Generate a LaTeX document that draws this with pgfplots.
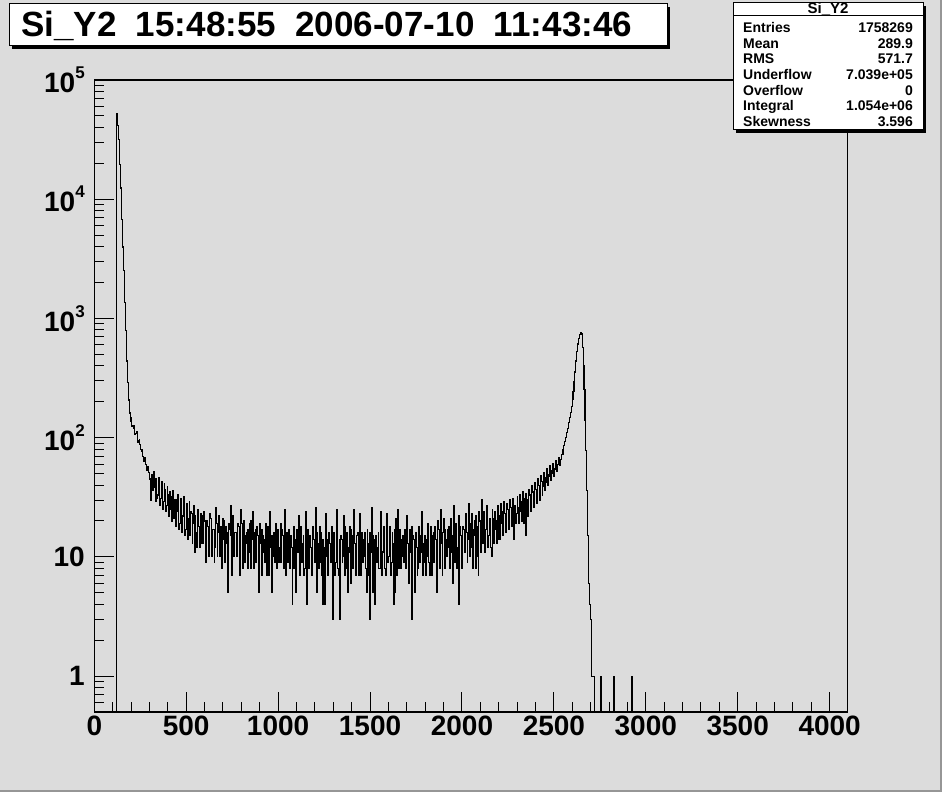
\documentclass[border=0pt]{standalone}
\usepackage{pgfplots}
\pgfplotsset{compat=1.18}
\usepackage{fontspec}
\setmainfont{Liberation Sans}
\definecolor{canvas}{RGB}{220,220,220}
\definecolor{edge}{RGB}{150,150,150}
\newcommand{\ex}[1]{\raisebox{0.5em}{\fontsize{17}{17}\selectfont #1}}
\begin{document}
\begin{tikzpicture}[x=1pt,y=1pt]
\fill[canvas] (0,0) rectangle (942,792);
\fill[edge] (940,0) rectangle (942,792);
\fill[edge] (0,0) rectangle (942,2);

\begin{axis}[
  at={(94.3pt,80pt)}, anchor=south west,
  width=753pt, height=632pt, scale only axis,
  ymode=log,
  xmin=0, xmax=4096, ymin=0.5, ymax=1e5,
  axis line style={line width=1.4pt},
  tick style={black, line width=1pt},
  tick align=inside, tick pos=left,
  major tick length=20pt, minor tick length=10pt,
  xtick={0,500,1000,1500,2000,2500,3000,3500,4000},
  xticklabels={0,500,1000,1500,2000,2500,3000,3500,4000},
  minor x tick num=4,
  ytick={1,10,100,1000,10000,100000},
  yticklabels={1,10,10\ex{2},10\ex{3},10\ex{4},10\ex{5}},
  minor ytick={0.5,0.6,0.7,0.8,0.9,2,3,4,5,6,7,8,9,20,30,40,50,60,70,80,90,
    200,300,400,500,600,700,800,900,2000,3000,4000,5000,6000,7000,8000,9000,
    20000,30000,40000,50000,60000,70000,80000,90000},
  ticklabel style={font=\fontsize{28}{28}\selectfont\bfseries},
  yticklabel style={anchor=east, xshift=-6pt},
]
\addplot[const plot, black, line width=1.2pt] table[row sep=\\] {
x y\\
0 0.01\\
119.7 52700\\ 125.2 41800\\ 130.6 31900\\ 136.0 19700\\ 141.5 12400\\
146.9 6810\\ 152.3 3970\\ 157.8 2540\\ 163.2 1370\\ 168.6 798\\
174.1 439\\ 179.5 292\\ 184.9 207\\ 190.4 161\\ 195.8 148\\
200 138\\ 204 124\\ 208 126\\ 212 127\\ 216 119\\ 220 106\\ 224 108\\ 228 110\\
232 112\\ 236 92\\ 240 95\\ 244 96\\ 248 88\\ 252 80\\ 256 79\\ 260 77\\
264 70\\ 268 63\\ 272 64\\ 276 68\\ 280 60\\ 284 53\\ 288 55\\ 292 57\\
296 51\\ 300 45\\
304 44\\ 308 30\\ 312 49\\ 316 36\\ 320 41\\ 324 52\\ 328 38\\ 332 29\\
336 45\\ 340 31\\ 344 33\\ 348 46\\ 352 40\\ 356 27\\ 360 31\\ 364 43\\
368 36\\ 372 25\\ 376 29\\ 380 41\\ 384 37\\ 388 24\\ 392 27\\ 396 39\\
400 33\\ 404 22\\
408 25\\ 412 35\\ 416 32\\ 420 20\\ 424 28\\ 428 36\\ 432 21\\ 436 30\\
440 30\\ 444 18\\ 448 24\\ 452 33\\ 456 27\\ 460 17\\ 464 19\\ 468 31\\
472 29\\ 476 16\\ 480 22\\ 484 32\\ 488 26\\ 492 15\\ 496 17\\ 500 28\\
504 25\\ 508 14\\ 512 21\\ 516 29\\ 520 15\\ 524 24\\ 528 23\\ 532 13\\
536 19\\ 540 27\\ 544 11\\ 548 22\\ 552 16\\ 556 12\\ 560 21\\ 564 25\\
568 18\\ 572 12\\ 576 13\\ 580 23\\ 584 22\\ 588 13\\ 592 17\\ 596 24\\
600 20\\ 604 11\\
608 9\\ 612 20\\ 616 18\\ 620 10\\ 624 15\\ 628 23\\ 632 21\\ 636 10\\
640 14\\ 644 17\\ 648 17\\ 652 9\\ 656 12\\ 660 26\\ 664 19\\ 668 10\\
672 16\\ 676 22\\ 680 10\\ 684 18\\ 688 18\\ 692 8\\ 696 14\\ 700 21\\
704 20\\ 708 9\\ 712 13\\ 716 18\\ 720 16\\ 724 5\\ 728 9\\ 732 19\\
736 17\\ 740 27\\ 744 15\\ 748 7\\ 752 22\\ 756 10\\ 760 12\\ 764 16\\
768 16\\ 772 10\\ 776 11\\ 780 19\\ 784 18\\ 788 7\\ 792 14\\ 796 25\\
800 19\\ 804 9\\ 808 8\\ 812 20\\ 816 15\\ 820 9\\ 824 13\\ 828 16\\
832 17\\ 836 8\\ 840 11\\ 844 19\\ 848 20\\ 852 8\\ 856 14\\ 860 24\\
864 12\\ 868 8\\ 872 16\\ 876 17\\ 880 9\\ 884 18\\ 888 15\\ 892 7\\
896 5\\ 900 19\\ 904 13\\ 908 7\\ 912 17\\ 916 15\\ 920 11\\ 924 9\\
928 14\\ 932 19\\ 936 7\\ 940 17\\ 944 18\\ 948 7\\ 952 12\\ 956 24\\
960 15\\ 964 5\\ 968 10\\ 972 15\\ 976 16\\ 980 9\\ 984 13\\ 988 19\\
992 8\\ 996 17\\ 1000 14\\ 1004 9\\
1008 12\\ 1012 19\\ 1016 9\\ 1020 17\\ 1024 15\\ 1028 8\\ 1032 11\\ 1036 25\\
1040 7\\ 1044 16\\ 1048 13\\ 1052 9\\ 1056 17\\ 1060 8\\ 1064 10\\ 1068 15\\
1072 12\\ 1076 4\\ 1080 8\\ 1084 18\\ 1088 14\\ 1092 8\\ 1096 5\\ 1100 17\\
1104 11\\ 1108 16\\ 1112 22\\ 1116 7\\ 1120 9\\ 1124 18\\ 1128 13\\ 1132 9\\
1136 15\\ 1140 7\\ 1144 8\\ 1148 24\\ 1152 11\\ 1156 4\\ 1160 17\\ 1164 8\\
1168 10\\ 1172 15\\ 1176 12\\ 1180 8\\ 1184 7\\ 1188 18\\ 1192 14\\ 1196 9\\
1200 11\\ 1204 26\\ 1208 5\\ 1212 16\\ 1216 13\\ 1220 8\\ 1224 9\\ 1228 18\\
1232 16\\ 1236 7\\ 1240 4\\ 1244 14\\ 1248 12\\ 1252 4\\ 1256 10\\ 1260 23\\
1264 14\\ 1268 7\\ 1272 8\\ 1276 16\\ 1280 13\\ 1284 9\\ 1288 11\\ 1292 18\\
1296 3\\ 1300 16\\ 1304 15\\ 1308 7\\ 1312 9\\ 1316 25\\ 1320 12\\ 1324 8\\
1328 7\\ 1332 14\\ 1336 3\\ 1340 15\\ 1344 14\\ 1348 9\\ 1352 10\\ 1356 22\\
1360 18\\ 1364 7\\ 1368 8\\ 1372 16\\ 1376 12\\ 1380 5\\ 1384 11\\ 1388 18\\
1392 6\\ 1396 17\\ 1400 15\\ 1404 8\\ 1408 10\\ 1412 25\\ 1416 13\\ 1420 7\\
1424 9\\ 1428 15\\ 1432 16\\ 1436 7\\ 1440 11\\ 1444 23\\ 1448 7\\ 1452 16\\
1456 12\\ 1460 9\\ 1464 14\\ 1468 16\\ 1472 10\\ 1476 8\\ 1480 5\\ 1484 17\\
1488 13\\ 1492 7\\ 1496 3\\ 1500 16\\ 1504 11\\ 1508 26\\ 1512 5\\ 1516 15\\
1520 14\\ 1524 4\\ 1528 9\\ 1532 15\\ 1536 12\\ 1540 9\\ 1544 16\\ 1548 8\\
1552 8\\ 1556 18\\ 1560 24\\ 1564 7\\ 1568 11\\ 1572 18\\ 1576 13\\ 1580 8\\
1584 7\\ 1588 23\\ 1592 12\\ 1596 9\\ 1600 10\\ 1604 18\\ 1608 15\\ 1612 7\\
1616 9\\ 1620 16\\ 1624 13\\ 1628 4\\ 1632 5\\ 1636 17\\ 1640 21\\ 1644 7\\
1648 11\\ 1652 25\\ 1656 8\\ 1660 17\\ 1664 14\\ 1668 8\\ 1672 10\\ 1676 15\\
1680 12\\ 1684 9\\ 1688 17\\ 1692 8\\ 1696 9\\ 1700 22\\ 1704 13\\ 1708 8\\
1712 6\\ 1716 17\\ 1720 11\\ 1724 18\\ 1728 3\\ 1732 15\\ 1736 14\\ 1740 5\\
1744 10\\ 1748 16\\ 1752 12\\ 1756 7\\ 1760 8\\ 1764 18\\ 1768 15\\ 1772 9\\
1776 11\\ 1780 24\\ 1784 13\\ 1788 7\\ 1792 9\\ 1796 15\\ 1800 14\\ 1804 7\\
1808 10\\ 1812 19\\ 1816 13\\ 1820 9\\ 1824 7\\ 1828 18\\ 1832 12\\ 1836 7\\
1840 15\\ 1844 16\\ 1848 9\\ 1852 18\\ 1856 14\\ 1860 5\\ 1864 11\\ 1868 20\\
1872 17\\ 1876 8\\ 1880 10\\ 1884 25\\ 1888 13\\ 1892 7\\ 1896 16\\ 1900 21\\
1904 8\\ 1908 17\\ 1912 14\\ 1916 10\\ 1920 12\\ 1924 17\\ 1928 18\\ 1932 8\\
1936 11\\ 1940 21\\ 1944 15\\ 1948 6\\ 1952 13\\ 1956 27\\ 1960 9\\ 1964 19\\
1968 16\\ 1972 8\\ 1976 12\\ 1980 22\\ 1984 4\\ 1988 18\\ 1992 15\\ 1996 8\\
2000 13\\ 2004 18\\ 2008 17\\ 2012 11\\ 2016 11\\ 2020 23\\ 2024 16\\ 2028 9\\
2032 14\\ 2036 28\\ 2040 19\\ 2044 10\\ 2048 12\\ 2052 23\\ 2056 17\\ 2060 8\\
2064 15\\ 2068 20\\ 2072 8\\ 2076 22\\ 2080 18\\ 2084 10\\ 2088 7\\ 2092 24\\
2096 20\\ 2100 11\\ 2104 16\\ 2108 30\\ 2112 13\\ 2116 24\\ 2120 19\\ 2124 11\\
2128 17\\ 2132 27\\ 2136 22\\ 2140 12\\ 2144 15\\ 2148 21\\ 2152 18\\ 2156 12\\
2160 10\\ 2164 25\\ 2168 21\\ 2172 13\\ 2176 17\\ 2180 24\\ 2184 20\\ 2188 13\\
2192 14\\ 2196 27\\ 2200 22\\ 2204 14\\
2208 19\\ 2212 28\\ 2216 24\\ 2220 15\\ 2224 20\\ 2228 29\\ 2232 23\\ 2236 16\\
2240 17\\ 2244 28\\ 2248 25\\ 2252 17\\ 2256 21\\ 2260 30\\ 2264 26\\ 2268 18\\
2272 22\\ 2276 31\\ 2280 14\\ 2284 27\\ 2288 27\\ 2292 19\\ 2296 23\\ 2300 32\\
2304 26\\ 2308 19\\ 2312 24\\ 2316 33\\ 2320 29\\ 2324 20\\ 2328 25\\ 2332 35\\
2336 19\\ 2340 31\\ 2344 15\\ 2348 34\\ 2352 30\\ 2356 22\\ 2360 28\\ 2364 37\\
2368 33\\ 2372 24\\ 2376 29\\ 2380 40\\ 2384 35\\ 2388 26\\ 2392 31\\ 2396 42\\
2400 37\\ 2404 28\\ 2408 33\\ 2412 45\\ 2416 40\\ 2420 30\\ 2424 36\\ 2428 48\\
2432 43\\ 2436 33\\ 2440 39\\ 2444 51\\ 2448 46\\ 2452 36\\ 2456 42\\ 2460 55\\
2464 49\\ 2468 40\\ 2472 47\\ 2476 58\\ 2480 53\\ 2484 44\\ 2488 50\\ 2492 61\\
2496 55\\ 2500 47\\ 2504 54\\ 2508 64\\ 2512 58\\ 2516 52\\ 2520 60\\ 2524 68\\
2528 64\\ 2532 58\\ 2536 66\\ 2540 72\\
2544 72\\ 2549 79\\ 2554 86\\ 2559 93\\ 2564 100\\ 2569 110\\ 2574 120\\
2579 133\\ 2584 148\\ 2589 163\\ 2594 183\\ 2599 208\\ 2604 245\\
2609 295\\ 2614 355\\ 2619 440\\ 2624 530\\ 2629 610\\ 2634 680\\
2639 730\\ 2644 755\\ 2649 740\\ 2654 570\\ 2659 400\\ 2664 255\\
2669 140\\ 2674 78\\ 2679 36\\ 2684 15\\ 2689 6\\ 2694 4\\ 2699 3\\
2704 1\\ 2709 1\\ 2714 1\\ 2719 0.01\\
2754 1\\ 2757 0.01\\ 2824 1\\ 2827 0.01\\ 2922 1\\ 2925 0.01\\
4096 0.01\\
};
\end{axis}

% title box
\fill[black] (12,743) rectangle (670,785);
\draw[fill=white, line width=1pt] (9,746) rectangle (667,788);
\node[anchor=base west, inner sep=0pt, font=\fontsize{35}{35}\selectfont\bfseries]
  at (21,755) {Si\_Y2\ \ 15:48:55\ \ 2006-07-10\ \ 11:43:46};

% stats box
\fill[black] (736,659) rectangle (926,786);
\draw[fill=white, line width=1pt] (733,662) rectangle (923,789);
\draw[line width=1pt] (733,776) -- (923,776);
\node[anchor=base, inner sep=0pt, font=\fontsize{15}{15}\selectfont\bfseries]
  at (828,778.5) {Si\_Y2};
\begin{scope}[every node/.style={inner sep=0pt, font=\fontsize{14}{14}\selectfont\bfseries}]
\node[anchor=base west] at (743,759.2) {Entries};
\node[anchor=base east] at (913,759.2) {1758269};
\node[anchor=base west] at (743,743.6) {Mean};
\node[anchor=base east] at (913,743.6) {289.9};
\node[anchor=base west] at (743,728) {RMS};
\node[anchor=base east] at (913,728) {571.7};
\node[anchor=base west] at (743,712.4) {Underflow};
\node[anchor=base east] at (913,712.4) {7.039e+05};
\node[anchor=base west] at (743,696.8) {Overflow};
\node[anchor=base east] at (913,696.8) {0};
\node[anchor=base west] at (743,681.2) {Integral};
\node[anchor=base east] at (913,681.2) {1.054e+06};
\node[anchor=base west] at (743,665.6) {Skewness};
\node[anchor=base east] at (913,665.6) {3.596};
\end{scope}
\end{tikzpicture}
\end{document}
